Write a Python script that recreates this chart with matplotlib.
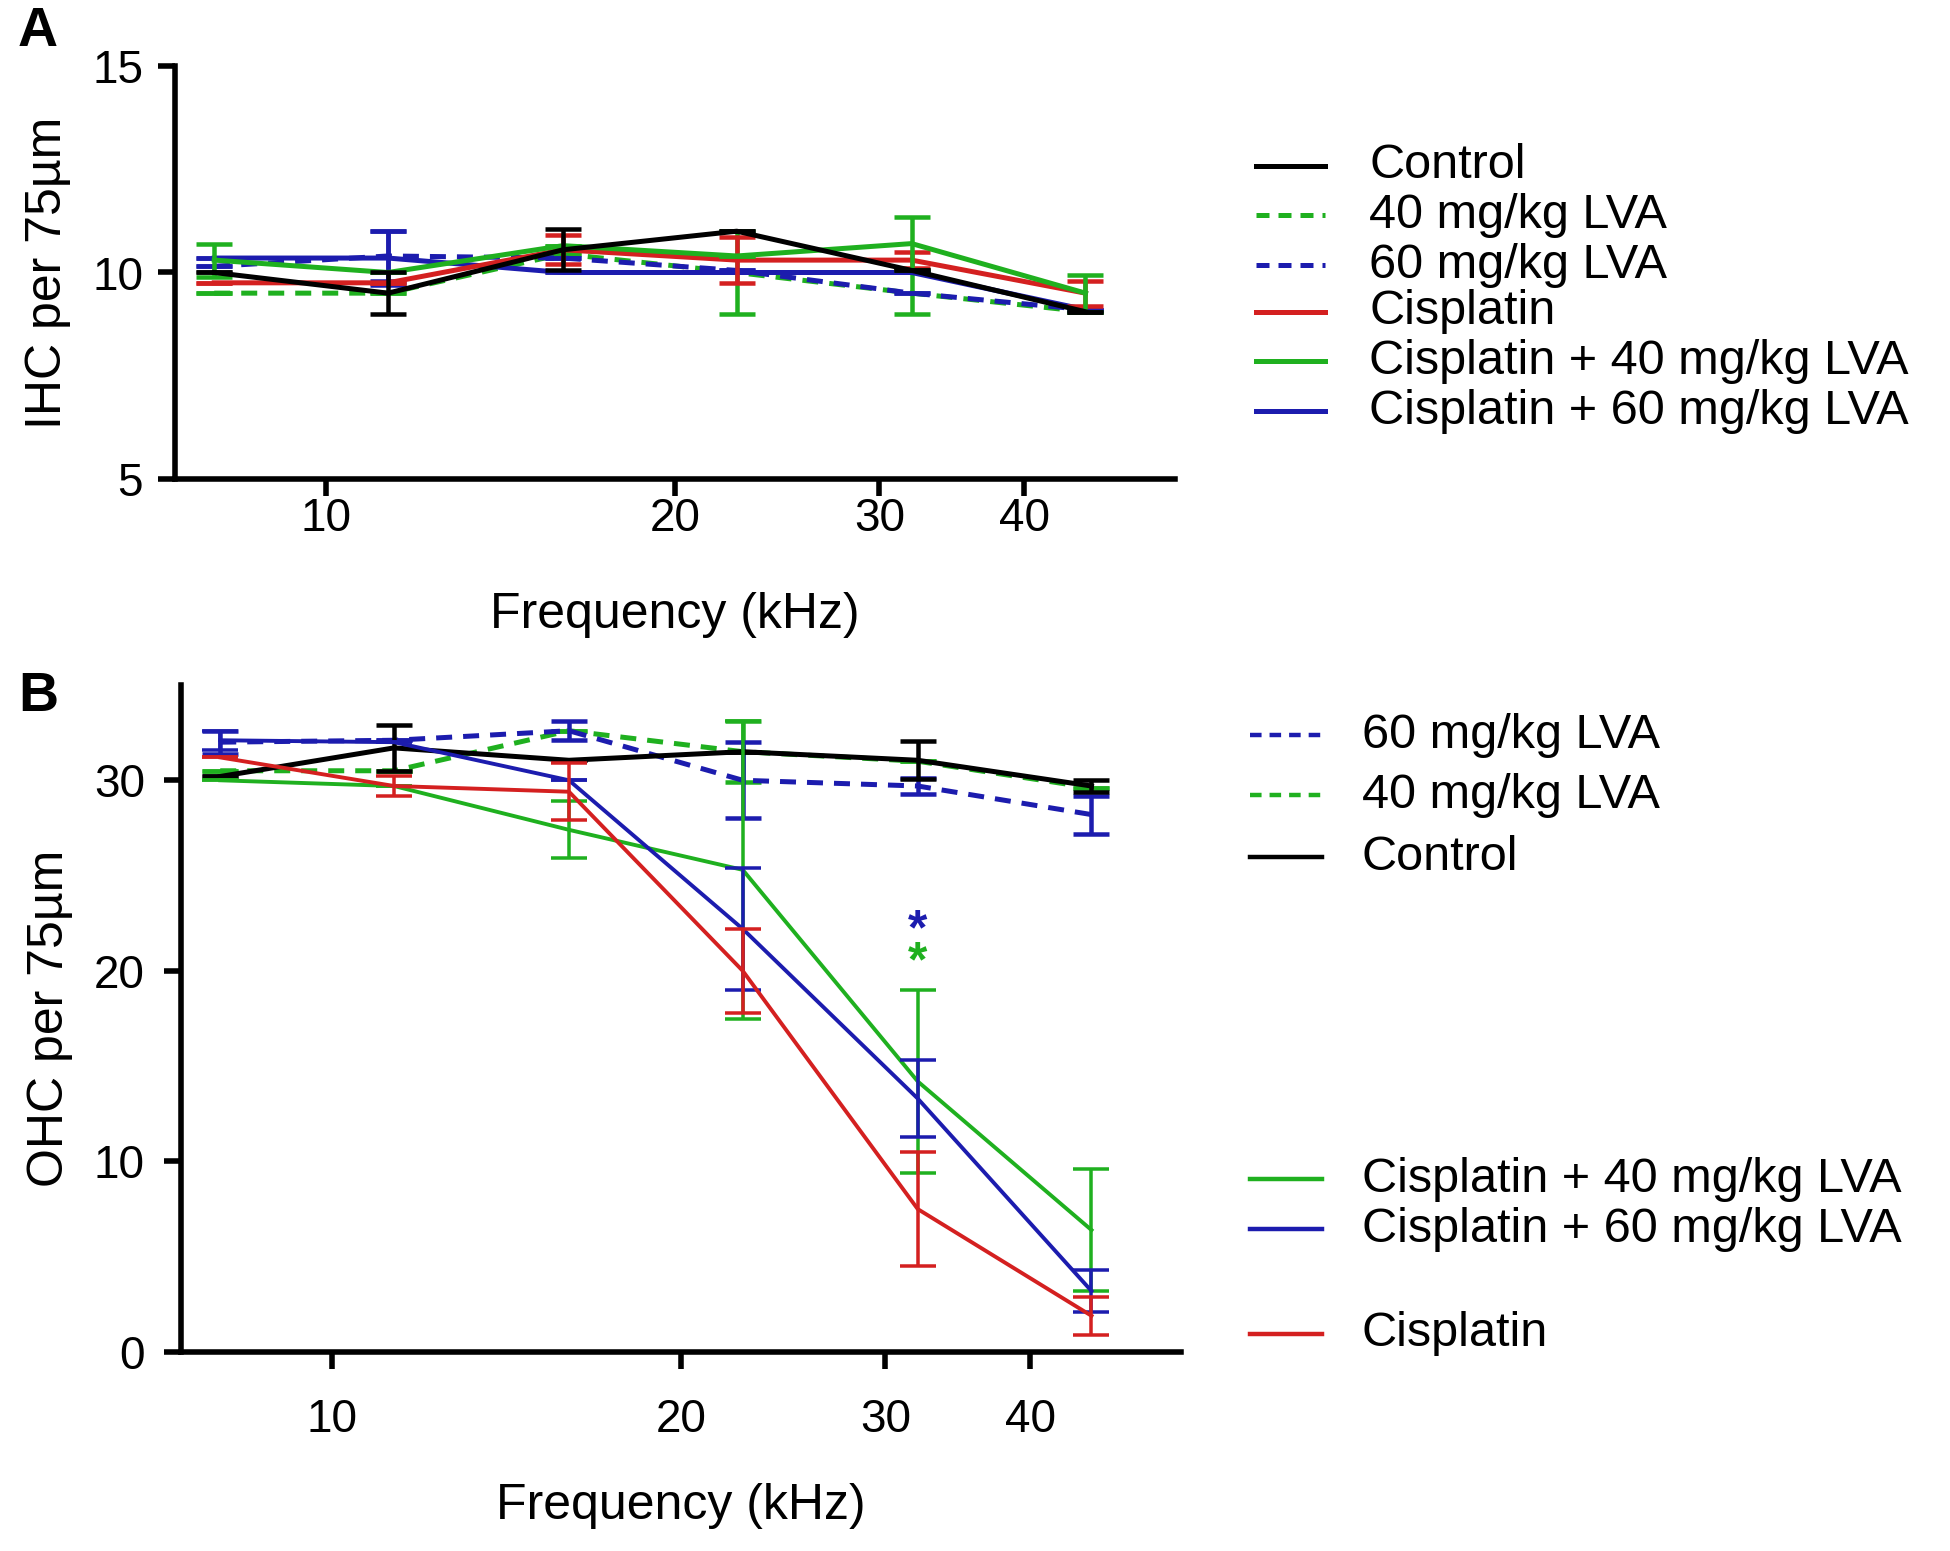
import matplotlib.pyplot as plt
from matplotlib.lines import Line2D
from matplotlib.ticker import FixedLocator, NullLocator

plt.rcParams['font.family'] = ['Liberation Sans', 'DejaVu Sans']

# frequencies (kHz)
freqs = [8, 11.3, 16, 22.6, 32, 45.2]

# panel A - IHC per 75um (mean, sem)
ihc_control = [10.0, 9.5, 10.55, 11.0, 10.05, 9.05]
ihc_control_err = [0.0, 0.5, 0.5, 0.0, 0.0, 0.0]
ihc_lva40 = [9.5, 9.5, 10.45, 10.0, 9.5, 9.05]
ihc_lva40_err = [0.0, 0.0, 0.0, 1.0, 0.5, 0.0]
ihc_lva60 = [10.15, 10.4, 10.35, 10.05, 9.5, 9.1]
ihc_lva60_err = [0.0, 0.6, 0.0, 0.0, 0.0, 0.0]
ihc_cis = [9.75, 9.75, 10.55, 10.3, 10.3, 9.5]
ihc_cis_err = [0.0, 0.0, 0.35, 0.55, 0.2, 0.3]
ihc_cis40 = [10.3, 10.0, 10.65, 10.4, 10.7, 9.5]
ihc_cis40_err = [0.4, 0.0, 0.0, 0.0, 0.65, 0.45]
ihc_cis60 = [10.35, 10.35, 10.0, 10.0, 10.0, 9.1]
ihc_cis60_err = [0.0, 0.65, 0.0, 0.0, 0.0, 0.0]

# panel B - OHC per 75um (mean, sem)
ohc_control = [30.2, 31.7, 31.05, 31.5, 31.05, 29.7]
ohc_control_err = [0.0, 1.2, 0.0, 0.0, 1.0, 0.3]
ohc_lva40 = [30.5, 30.5, 32.6, 31.5, 31.0, 29.6]
ohc_lva40_err = [0.0, 0.0, 0.0, 1.6, 0.0, 0.0]
ohc_lva60 = [32.0, 32.1, 32.6, 30.0, 29.7, 28.2]
ohc_lva60_err = [0.6, 0.0, 0.5, 2.0, 0.4, 1.0]
ohc_cis = [31.2, 29.7, 29.4, 20.0, 7.5, 1.9]
ohc_cis_err = [0.0, 0.5, 1.5, 2.2, 3.0, 1.0]
ohc_cis40 = [30.0, 29.7, 27.4, 25.3, 14.2, 6.4]
ohc_cis40_err = [0.0, 0.0, 1.5, 7.8, 4.8, 3.2]
ohc_cis60 = [32.1, 32.0, 30.0, 22.2, 13.3, 3.2]
ohc_cis60_err = [0.5, 0.0, 0.0, 3.2, 2.0, 1.1]

# significance marks at 32 kHz
star_x = 32
star_blue_y = 22.1
star_green_y = 20.4

BLACK = '#000000'
GREEN = '#1fb01f'
BLUE = '#1c1cae'
RED = '#d42020'
W, H = 1950.0, 1551.0

fig = plt.figure(figsize=(19.5, 15.51), dpi=100)
axA = fig.add_axes([175 / W, 1 - 479 / H, 1000 / W, 413 / H])
axB = fig.add_axes([181 / W, 1 - 1352 / H, 1000 / W, 667 / H])


def series(ax, y, err, color, lw, dashed=False):
    ls = (0, (3.2, 2.2)) if dashed else '-'
    ax.plot(freqs, y, color=color, lw=lw, linestyle=ls, zorder=3)
    e = ax.errorbar(freqs, y, yerr=err, fmt='none', ecolor=color,
                    elinewidth=lw * 0.9, capsize=13, capthick=lw * 0.9, zorder=3)
    for c in e[1]:
        c.set_clip_on(False)


def style(ax, ylim, yticks, ylabel, xpad, ypad):
    ax.set_xscale('log')
    ax.set_xlim(7.4, 54)
    ax.set_ylim(*ylim)
    ax.xaxis.set_major_locator(FixedLocator([10, 20, 30, 40]))
    ax.xaxis.set_minor_locator(NullLocator())
    ax.set_xticklabels(['10', '20', '30', '40'])
    ax.set_yticks(yticks)
    for s in ['top', 'right']:
        ax.spines[s].set_visible(False)
    for s in ['left', 'bottom']:
        ax.spines[s].set_linewidth(4)
    ax.tick_params(axis='both', which='major', labelsize=33, width=4,
                   length=12, direction='out')
    ax.tick_params(axis='x', pad=xpad)
    ax.tick_params(axis='y', pad=ypad)
    ax.set_xlabel('Frequency (kHz)', fontsize=36)
    ax.set_ylabel(ylabel, fontsize=36)
    ax.xaxis.label.set_va('center')
    ax.yaxis.label.set_va('center')


# panel A
LA = 3.6
series(axA, ihc_lva40, ihc_lva40_err, GREEN, LA, dashed=True)
series(axA, ihc_lva60, ihc_lva60_err, BLUE, LA, dashed=True)
series(axA, ihc_cis60, ihc_cis60_err, BLUE, LA)
series(axA, ihc_cis, ihc_cis_err, RED, LA)
series(axA, ihc_cis40, ihc_cis40_err, GREEN, LA)
series(axA, ihc_control, ihc_control_err, BLACK, LA)
style(axA, (5, 15), [5, 10, 15], 'IHC per 75µm', xpad=1, ypad=11)
axA.yaxis.set_label_coords((48 - 175) / 1000, 0.5)
axA.xaxis.set_label_coords(0.5, -(615 - 479) / 413)

# panel B
LB = 2.8
series(axB, ohc_lva40, ohc_lva40_err, GREEN, 3.6, dashed=True)
series(axB, ohc_lva60, ohc_lva60_err, BLUE, 3.6, dashed=True)
series(axB, ohc_control, ohc_control_err, BLACK, 3.6)
series(axB, ohc_cis40, ohc_cis40_err, GREEN, LB)
series(axB, ohc_cis60, ohc_cis60_err, BLUE, LB)
series(axB, ohc_cis, ohc_cis_err, RED, LB)
style(axB, (0, 35), [0, 10, 20, 30], 'OHC per 75µm', xpad=21, ypad=14)
axB.yaxis.set_label_coords((50 - 181) / 1000, 0.5)
axB.xaxis.set_label_coords(0.5, -(1506 - 1352) / 667)
axB.text(star_x, star_blue_y, '*', color=BLUE, fontsize=36, fontweight='bold',
         ha='center', va='center')
axB.text(star_x, star_green_y, '*', color=GREEN, fontsize=36, fontweight='bold',
         ha='center', va='center')

fig.text(18 / W, 1 - 32 / H, 'A', fontsize=40, fontweight='bold', va='center')
fig.text(18 / W, 1 - 697 / H, 'B', fontsize=40, fontweight='bold', va='center')


def legend_row(x0, x1, xt, y, color, label, lw, dashed=False):
    ls = (0, (2.6, 1.8)) if dashed else '-'
    fig.add_artist(Line2D([x0 / W, x1 / W], [1 - y / H, 1 - y / H], color=color,
                          lw=lw, linestyle=ls))
    fig.text(xt / W, 1 - y / H, label, fontsize=35, va='center', ha='left')


legA = [(166, BLACK, 'Control', False),
        (215, GREEN, '40 mg/kg LVA', True),
        (265, BLUE, '60 mg/kg LVA', True),
        (312, RED, 'Cisplatin', False),
        (361, GREEN, 'Cisplatin + 40 mg/kg LVA', False),
        (411, BLUE, 'Cisplatin + 60 mg/kg LVA', False)]
for y, c, lab, d in legA:
    legend_row(1256, 1325, 1369, y, c, lab, LA, d)

legB = [(735, BLUE, '60 mg/kg LVA', True),
        (795, GREEN, '40 mg/kg LVA', True),
        (857, BLACK, 'Control', False),
        (1179, GREEN, 'Cisplatin + 40 mg/kg LVA', False),
        (1229, BLUE, 'Cisplatin + 60 mg/kg LVA', False),
        (1334, RED, 'Cisplatin', False)]
for y, c, lab, d in legB:
    legend_row(1250, 1322, 1362, y, c, lab, 3.2, d)

fig.savefig('out.png', dpi=100)
